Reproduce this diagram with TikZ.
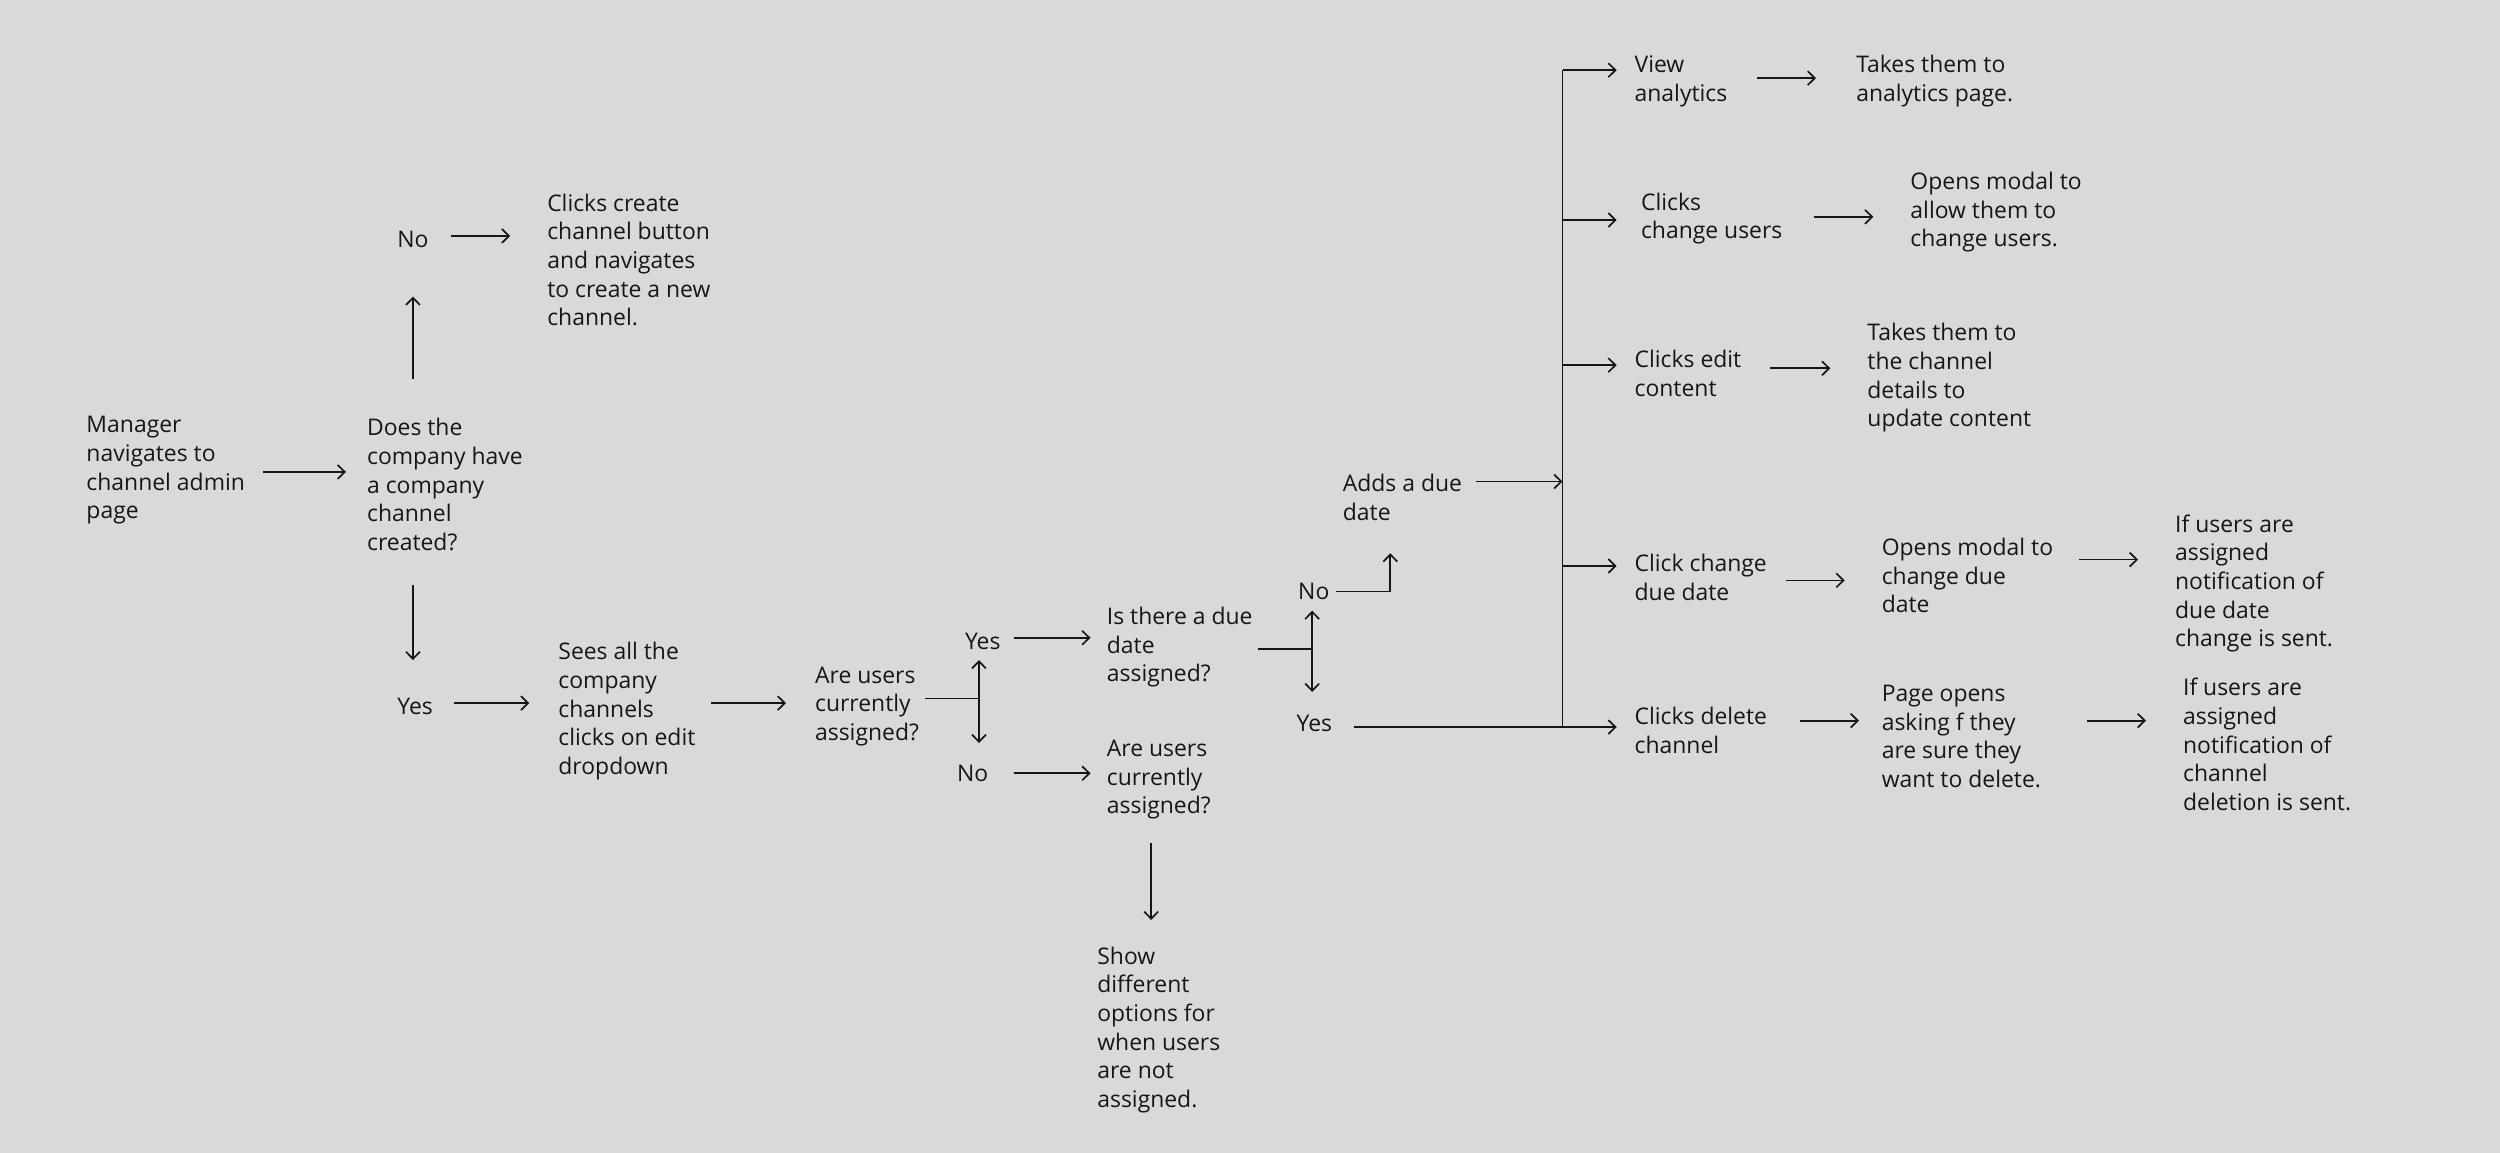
\documentclass[tikz,border=0pt]{standalone}
\usepackage{fontspec}
\setmainfont{Open Sans}
\usetikzlibrary{arrows.meta}
\definecolor{bg}{HTML}{D9D9D9}
\definecolor{ink}{HTML}{161616}
\begin{document}
\begin{tikzpicture}[x=0.8pt,y=-0.8pt,
  txt/.style={anchor=west,align=left,inner sep=0pt,text=ink,yshift=-1.6pt,font={\fontsize{11.5}{14.4}\selectfont}},
  conn/.style={draw=ink,line width=0.85pt,transform canvas={yshift=1.6pt}},
  arr/.style={conn,-{Straight Barb[length=3.6pt,width=7pt]}}]
\fill[bg] (0,0) rectangle (1568,723);
\useasboundingbox (0,0) rectangle (1568,723);

% ---- text nodes ----
\node[txt] (man) at (54,293) {Manager\\navigates to\\channel admin\\page};
\node[txt] (does) at (230,302) {Does the\\company have\\a company\\channel\\created?};
\node[txt] (no1) at (249,148) {No};
\node[txt] (clk) at (343,161) {Clicks create\\channel button\\and navigates\\to create a new\\channel.};
\node[txt] (yes1) at (249,441) {Yes};
\node[txt] (sees) at (350,444) {Sees all the\\company\\channels\\clicks on edit\\dropdown};
\node[txt] (are1) at (511,441) {Are users\\currently\\assigned?};
\node[txt] (yes2) at (605,400) {Yes};
\node[txt] (no2) at (600,483) {No};
\node[txt] (isdue) at (694,404) {Is there a due\\date\\assigned?};
\node[txt] (are2) at (694,487) {Are users\\currently\\assigned?};
\node[txt] (show) at (688,644) {Show\\different\\options for\\when users\\are not\\assigned.};
\node[txt] (no3) at (814,369) {No};
\node[txt] (yes3) at (813,452) {Yes};
\node[txt] (adds) at (842,310) {Adds a due\\date};
\node[txt] (va) at (1025,49) {View\\analytics};
\node[txt] (ta) at (1164,49) {Takes them to\\analytics page.};
\node[txt] (ccu) at (1029,135) {Clicks\\change users};
\node[txt] (om1) at (1198,131) {Opens modal to\\allow them to\\change users.};
\node[txt] (cec) at (1025,232) {Clicks edit\\content};
\node[txt] (tt) at (1171,235) {Takes them to\\the channel\\details to\\update content};
\node[txt] (ccd) at (1025,360) {Click change\\due date};
\node[txt] (om2) at (1180,359) {Opens modal to\\change due\\date};
\node[txt] (ifu1) at (1364,364) {If users are\\assigned\\notification of\\due date\\change is sent.};
\node[txt] (cdc) at (1025,456) {Clicks delete\\channel};
\node[txt] (po) at (1180,460) {Page opens\\asking f they\\are sure they\\want to delete.};
\node[txt] (ifu2) at (1369,465) {If users are\\assigned\\notification of\\channel\\deletion is sent.};

% ---- left part ----
\draw[arr] ([shift={(111,3)}]man.west) -- ([shift={(-13,-6)}]does.west);
\draw[arr] ([shift={(29,-64)}]does.west) -- ([shift={(10,38)}]no1.west);
\draw[arr] ([shift={(34,0)}]no1.west) -- ([shift={(-23,-13)}]clk.west);
\draw[arr] ([shift={(29,65)}]does.west) -- ([shift={(10,-27)}]yes1.west);
\draw[arr] ([shift={(36,0)}]yes1.west) -- ([shift={(-18,-3)}]sees.west);
\draw[arr] ([shift={(96,-3)}]sees.west) -- ([shift={(-18,0)}]are1.west);

% fork 1
\coordinate (f1) at ([shift={(103,-3)}]are1.west);
\draw[conn] ([shift={(69,-3)}]are1.west) -- (f1);
\draw[arr] (f1) -- ([shift={(9,14)}]yes2.west);
\draw[arr] (f1) -- ([shift={(14,-17)}]no2.west);
\draw[arr] ([shift={(31,0)}]yes2.west) -- ([shift={(-10,-4)}]isdue.west);
\draw[arr] ([shift={(36,2)}]no2.west) -- ([shift={(-10,-2)}]are2.west);
\draw[arr] ([shift={(28,42)}]are2.west) -- ([shift={(34,-67)}]show.west);

% fork 2
\coordinate (f2) at ([shift={(129,3)}]isdue.west);
\draw[conn] ([shift={(95,3)}]isdue.west) -- (f2);
\draw[arr] (f2) -- ([shift={(9,14)}]no3.west);
\draw[arr] (f2) -- ([shift={(10,-18)}]yes3.west);
\draw[arr] ([shift={(24,2)}]no3.west) -| ([shift={(30,37)}]adds.west);

% ---- trunk and branches ----
\coordinate (trunk) at ([shift={(-45,0)}]va.west);
\coordinate (bva) at ([shift={(-11,-5)}]va.west);
\coordinate (bccu) at ([shift={(-15,3)}]ccu.west);
\coordinate (bcec) at ([shift={(-11,-3)}]cec.west);
\coordinate (bccd) at ([shift={(-11,-5)}]ccd.west);
\coordinate (bcdc) at ([shift={(-11,0)}]cdc.west);
\draw[conn] (trunk |- bva) -- (trunk |- bcdc);
\draw[arr] (trunk |- bva) -- (bva);
\draw[arr] (trunk |- bccu) -- (bccu);
\draw[arr] (trunk |- bcec) -- (bcec);
\draw[arr] (trunk |- bccd) -- (bccd);
\draw[arr] ([shift={(36,4)}]yes3.west) -- (bcdc);
\coordinate (a11s) at ([shift={(84,-8)}]adds.west);
\draw[arr] (a11s) -- (a11s -| trunk);

% ---- right part ----
\draw[arr] ([shift={(77,0)}]va.west) -- ([shift={(-25,0)}]ta.west);
\draw[arr] ([shift={(109,1)}]ccu.west) -- ([shift={(-23,5)}]om1.west);
\draw[arr] ([shift={(85,-1)}]cec.west) -- ([shift={(-23,-4)}]tt.west);
\draw[arr] ([shift={(95,4)}]ccd.west) -- ([shift={(-23,5)}]om2.west);
\draw[arr] ([shift={(124,-8)}]om2.west) -- ([shift={(-23,-13)}]ifu1.west);
\draw[arr] ([shift={(104,-4)}]cdc.west) -- ([shift={(-14,-8)}]po.west);
\draw[arr] ([shift={(129,-8)}]po.west) -- ([shift={(-23,-13)}]ifu2.west);
\end{tikzpicture}
\end{document}
